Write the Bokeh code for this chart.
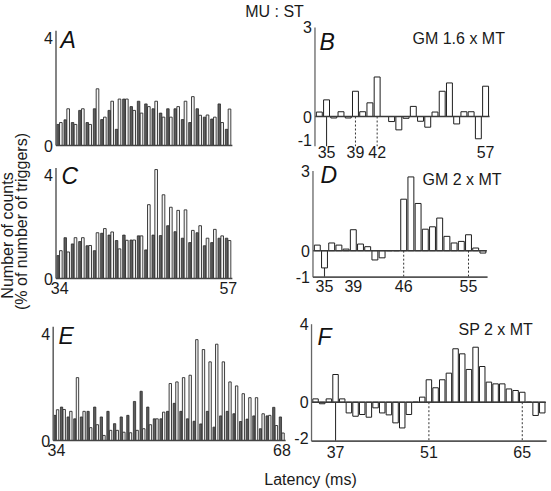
import numpy as np
from bokeh.plotting import figure
from bokeh.models import Range1d
from bokeh.core.properties import value
from bokeh.embed import file_html
from bokeh.resources import INLINE

# ---------------- data (percent of number of triggers) ----------------
bins_AC = list(range(34, 58))          # 34..57
bins_E = list(range(34, 69))           # 34..68
bins_BD = list(range(34, 58))
bins_F = list(range(34, 69))

A_dark = [0.78, 0.95, 0.85, 1.30, 0.85, 1.36, 0.96, 1.30, 0.60, 1.72, 1.44, 1.64,
          1.54, 1.36, 1.20, 1.36, 1.36, 0.96, 0.85, 1.36, 1.05, 0.98, 1.54, 0.60]
A_light = [0.85, 1.36, 0.78, 1.36, 0.78, 2.10, 1.05, 1.64, 1.72, 1.72, 1.30, 1.20,
           1.44, 1.64, 1.05, 1.05, 1.44, 1.64, 1.81, 1.12, 1.13, 1.05, 0.85, 1.35]
C_dark = [0.88, 1.57, 1.33, 1.42, 1.26, 1.07, 1.74, 1.67, 1.46, 1.67, 1.48, 1.64,
          1.10, 1.67, 1.65, 2.03, 1.80, 1.55, 1.38, 1.76, 1.26, 1.38, 1.55, 1.55]
C_light = [1.07, 1.02, 1.57, 1.57, 1.27, 1.76, 1.92, 1.79, 1.14, 1.47, 1.48, 1.64,
           2.84, 4.19, 3.22, 2.74, 2.62, 2.64, 1.85, 2.03, 1.55, 1.89, 1.64, 1.46]
E_dark = [0.94, 1.25, 0.88, 0.81, 0.88, 1.09, 1.25, 0.88, 1.09, 0.63, 0.88, 0.94,
          1.46, 1.84, 1.25, 0.81, 0.81, 1.09, 1.39, 1.09, 0.81, 0.72, 0.62, 1.09,
          0.50, 0.92, 1.09, 1.00, 0.71, 0.80, 0.92, 0.44, 0.92, 1.24, 0.88]
E_light = [1.15, 1.16, 1.09, 2.35, 1.09, 0.48, 0.59, 0.19, 0.38, 0.38, 0.31, 0.29,
           0.38, 0.44, 0.59, 0.81, 1.06, 2.13, 2.19, 2.35, 2.44, 3.77, 3.40, 2.94,
           3.60, 2.94, 2.19, 2.04, 1.75, 1.60, 1.60, 1.00, 0.94, 0.56, 0.28]
B_vals = [0.15, 0.56, -0.05, 0.16, -0.05, 0.85, 0.16, 0.46, 1.33, 0.0, -0.17, -0.45,
          -0.06, 0.34, -0.16, -0.36, 0.15, 0.85, 1.13, -0.25, 0.16, 0.16, -0.75, 1.02]
D_vals = [0.21, -0.65, 0.29, 0.21, 0.06, 0.79, 0.25, 0.15, -0.35, -0.27, 0.0, 0.0,
          1.94, 2.78, 1.78, 0.81, 0.90, 1.23, 0.54, 0.29, 0.35, 0.60, 0.10, -0.09]
F_vals = [0.17, -0.08, 0.17, 1.42, 0.17, -0.55, -0.72, -0.63, -0.77, -0.29, -0.55, -0.65,
          -1.06, -1.32, -0.63, 0.0, 0.26, 1.15, 0.74, 1.15, 1.49, 2.74, 2.48, 1.68,
          2.82, 1.83, 1.03, 0.94, 0.94, 0.68, 0.60, 0.51, 0.0, -0.68, -0.55]

A_yticks = [0, 4]
C_yticks = [0, 4]
E_yticks = [0, 4]
B_yticks = [-1, 0, 3]
D_yticks = [-1, 0, 3]
F_yticks = [-2, 0, 4]
C_xticks = [34, 57]
E_xticks = [34, 68]
B_xticks = [35, 39, 42, 57]
D_xticks = [35, 39, 46, 55]
F_xticks = [37, 51, 65]
B_solid, B_dotted = [35], [39, 42]
D_solid, D_dotted = [35], [46, 55]
F_solid, F_dotted = [37], [51, 65]

title = "MU : ST"
ylabel1 = "Number of counts"
ylabel2 = "(% of number of triggers)"
xlabel = "Latency (ms)"
letters = ["A", "B", "C", "D", "E", "F"]
notes = ["GM 1.6 x MT", "GM 2 x MT", "SP 2 x MT"]

# ---------------- canvas (coordinates of the default ranges = picture pixels) ----------------
W, H = 551, 491
FONT = value("Liberation Sans")
p = figure(width=W, height=H, x_range=Range1d(0, W), y_range=Range1d(H, 0),
           output_backend="svg", toolbar_location=None, x_axis_type=None,
           y_axis_type=None, min_border=0, outline_line_color=None,
           background_fill_color="white", border_fill_color="white")

xr, yr = {}, {}


def panel(name, x0, x1, xlim, ybot, ytop, ylim):
    """Range for a panel whose data box xlim x ylim occupies the given pixel box."""
    kx = (x1 - x0) / (xlim[1] - xlim[0])
    s = xlim[0] - x0 / kx
    xr[name] = Range1d(s, s + W / kx)
    ky = (ybot - ytop) / (ylim[1] - ylim[0])
    s = ylim[0] - (H - ybot) / ky
    yr[name] = Range1d(s, s + H / ky)


panel("A", 55.5, 231.5, (33.5, 57.5), 145, 37, (0, 4))
panel("C", 55.5, 231.5, (33.5, 57.5), 278, 174, (0, 4))
panel("E", 52.7, 284.8, (33.5, 68.5), 440, 333, (0, 4))
panel("B", 315.2, 488.7, (33.5, 57.5), 145.7, 26.9, (-1, 3))
panel("D", 313.2, 486.0, (33.5, 57.5), 276.7, 170.6, (-1, 3))
panel("F", 311.7, 545.1, (33.5, 68.5), 440.7, 323.7, (-2, 4))
p.extra_x_ranges = xr
p.extra_y_ranges = yr


def R(n):
    return dict(x_range_name=n, y_range_name=n)


def txt(xs, ys, texts, rn="default", **kw):
    args = dict(x=xs, y=ys, text=texts, text_font=FONT, text_font_size="16px",
                text_color="#1a1a1a", x_range_name=rn, y_range_name=rn)
    args.update(kw)
    p.text(**args)


def ylabels(name, axis_x, ticks, shift=None):
    shift = shift or {}
    for v in ticks:
        txt([axis_x], [v], [str(v)], rn=name, text_align="right",
            text_baseline="middle", x_offset=-3, y_offset=shift.get(v, 0))


# ---------- paired histograms A, C, E ----------
for name, bins, dark, light, yt, xt in [
        ("A", bins_AC, A_dark, A_light, A_yticks, []),
        ("C", bins_AC, C_dark, C_light, C_yticks, C_xticks),
        ("E", bins_E, E_dark, E_light, E_yticks, E_xticks)]:
    b = np.array(bins, dtype=float)
    p.vbar(x=b - 0.24, top=dark, bottom=0, width=0.34, fill_color="#5e5e5e",
           line_color="#2a2a2a", line_width=0.8, **R(name))
    p.vbar(x=b + 0.16, top=light, bottom=0, width=0.36, fill_color="#f4f4f4",
           line_color="#2a2a2a", line_width=0.9, **R(name))
    p.segment(x0=[33.5], y0=[0], x1=[33.5], y1=[4.25], line_color="#666666",
              line_width=1.6, **R(name))
    p.segment(x0=[33.5], y0=[0], x1=[bins[-1] + 0.55], y1=[0], line_color="#444444",
              line_width=1.6, **R(name))
    ylabels(name, 33.5, yt)
    if xt:
        txt(xt, [0] * len(xt), [str(v) for v in xt], rn=name, text_align="center",
            text_baseline="top", y_offset=3)

# ---------- difference histograms B, D, F ----------
for name, bins, vals, yt, xt, solid, dotted, ymin, bottom_line, xoff, yshift in [
        ("B", bins_BD, B_vals, B_yticks, B_xticks, B_solid, B_dotted, -1, False, 0, {-1: -6}),
        ("D", bins_BD, D_vals, D_yticks, D_xticks, D_solid, D_dotted, -1, True, 3, {}),
        ("F", bins_F, F_vals, F_yticks, F_xticks, F_solid, F_dotted, -2, True, 5, {-2: -3})]:
    ymax = yt[-1]
    xend = bins[-1] + 0.55
    p.segment(x0=solid, y0=[0] * len(solid), x1=solid, y1=[ymin] * len(solid),
              line_color="#333333", line_width=1.1, **R(name))
    p.segment(x0=dotted, y0=[0] * len(dotted), x1=dotted, y1=[ymin] * len(dotted),
              line_color="#333333", line_width=1.0, line_dash="2 2", **R(name))
    p.vbar(x=bins, top=vals, bottom=0, width=0.82, fill_color="white",
           line_color="#1e1e1e", line_width=1.0, **R(name))
    p.segment(x0=[33.4], y0=[0], x1=[xend], y1=[0], line_color="#3a3a3a",
              line_width=1.5, **R(name))
    p.segment(x0=[33.4], y0=[ymin], x1=[33.4], y1=[ymax], line_color="#666666",
              line_width=1.3, **R(name))
    if bottom_line:
        p.segment(x0=[33.4], y0=[ymin], x1=[xend + 0.1], y1=[ymin],
                  line_color="#555555", line_width=1.8, **R(name))
    ylabels(name, 33.4, yt, yshift)
    txt(xt, [ymin] * len(xt), [str(v) for v in xt], rn=name, text_align="center",
        text_baseline="top", y_offset=xoff)

# ---------- panel letters, notes, titles ----------
txt([60, 319, 61, 320, 58, 317], [39, 41, 175, 174, 335, 336], letters,
    text_font_size="23px", text_font_style="italic", text_baseline="middle",
    text_align="left", text_color="#111111")
txt([412, 422, 458], [38, 179, 329], notes, text_baseline="middle", text_align="left")
txt([274], [11], [title], text_baseline="middle", text_align="center")
txt([310], [479], [xlabel], text_baseline="middle", text_align="center")
txt([7], [235], [ylabel1], text_baseline="middle", text_align="center", angle=np.pi / 2)
txt([21], [221], [ylabel2], text_baseline="middle", text_align="center", angle=np.pi / 2)

open("out.html", "w").write(file_html(p, INLINE))
